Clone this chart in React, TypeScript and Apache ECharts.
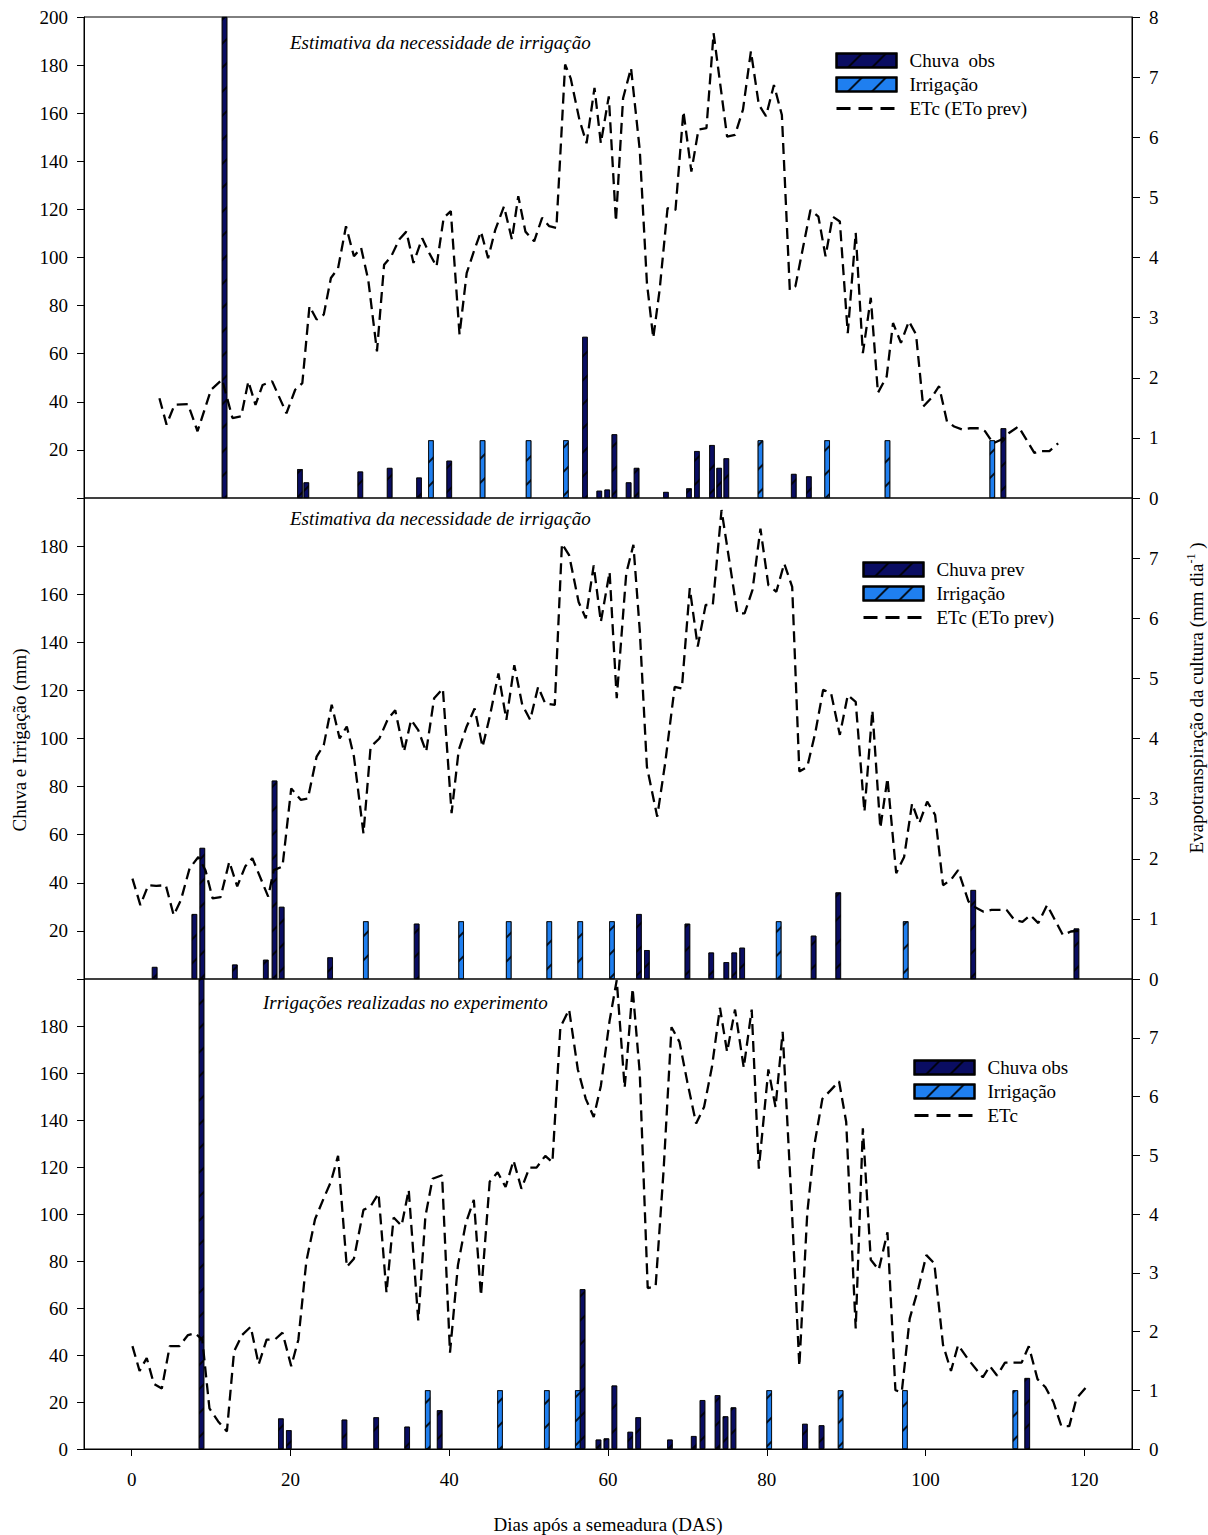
import React, { useEffect, useRef } from "react";
import * as echarts from "echarts";

const FONT = "'Liberation Serif', 'Times New Roman', serif";
const DARK = "#0a0d62";
const BLUE = "#1f7ff0";

// x tick labels (DAS)
const xTicks = [0, 20, 40, 60, 80, 100, 120];
const leftTicksTop = [20, 40, 60, 80, 100, 120, 140, 160, 180, 200];
const leftTicksMid = [20, 40, 60, 80, 100, 120, 140, 160, 180];
const leftTicksBot = [0, 20, 40, 60, 80, 100, 120, 140, 160, 180];
const rightTicksTop = [0, 1, 2, 3, 4, 5, 6, 7, 8];
const rightTicksOther = [0, 1, 2, 3, 4, 5, 6, 7];

// ---- Panel 1: Estimativa (chuva observada) ----
const chuvaObsTop: [number, number][] = [
  [11.7, 200], [21.2, 12], [22.0, 6.5], [28.8, 11], [32.5, 12.5], [36.2, 8.5],
  [40.0, 15.5], [57.1, 67], [58.9, 3], [59.9, 3.5], [60.8, 26.5], [62.6, 6.5],
  [63.6, 12.5], [67.3, 2.5], [70.2, 4], [71.2, 19.5], [73.1, 22], [74.0, 12.5],
  [74.9, 16.5], [83.4, 10], [85.3, 9], [109.8, 29],
];
const irrigTop: [number, number][] = [
  [37.7, 24], [44.2, 24], [50.0, 24], [54.7, 24], [79.2, 24], [87.6, 24], [95.2, 24], [108.4, 24],
];
const etcTop: [number, number][] = [
  [3.5, 1.66], [4.4, 1.22], [5.4, 1.55], [7.1, 1.56], [8.3, 1.11], [10.0, 1.8], [11.4, 1.97],
  [12.7, 1.33], [13.8, 1.36], [14.7, 1.94], [15.6, 1.55], [16.5, 1.88], [17.7, 1.94], [19.5, 1.41],
  [20.6, 1.8], [21.5, 1.91], [22.4, 3.19], [23.3, 2.97], [24.2, 3.05], [25.1, 3.66], [26.0, 3.82],
  [27.0, 4.52], [28.0, 4.02], [28.9, 4.16], [29.8, 3.63], [30.9, 2.44], [31.8, 3.88], [32.7, 4.02],
  [33.7, 4.3], [34.6, 4.43], [35.5, 3.91], [36.6, 4.32], [37.5, 4.07], [38.4, 3.85], [39.3, 4.66],
  [40.2, 4.77], [41.3, 2.72], [42.2, 3.74], [43.1, 4.1], [44.0, 4.43], [44.9, 3.99], [45.8, 4.46],
  [46.9, 4.85], [47.9, 4.3], [48.7, 5.02], [49.6, 4.43], [50.7, 4.27], [51.7, 4.66], [52.6, 4.52],
  [53.5, 4.49], [54.6, 7.21], [55.3, 6.98], [56.4, 6.29], [57.3, 5.9], [58.3, 6.82], [59.1, 5.9],
  [60.1, 6.68], [61.0, 4.6], [61.9, 6.65], [62.9, 7.15], [64.0, 5.79], [64.9, 3.58], [65.7, 2.66],
  [66.5, 3.46], [67.5, 4.82], [68.5, 4.79], [69.5, 6.43], [70.5, 5.43], [71.4, 6.13], [72.4, 6.15],
  [73.3, 7.73], [75.0, 6.01], [76.0, 6.04], [77.0, 6.46], [78.0, 7.43], [79.0, 6.54], [79.9, 6.35],
  [80.9, 6.87], [81.9, 6.37], [82.9, 3.46], [83.6, 3.52], [84.6, 4.19], [85.5, 4.79], [86.5, 4.68],
  [87.4, 4.02], [88.3, 4.68], [89.2, 4.6], [90.2, 2.74], [91.2, 4.41], [92.1, 2.41], [93.1, 3.33],
  [94.0, 1.75], [95.1, 2.02], [95.9, 2.91], [96.9, 2.58], [97.9, 2.94], [98.8, 2.72], [99.7, 1.52],
  [100.7, 1.66], [101.7, 1.86], [102.7, 1.27], [103.6, 1.19], [104.6, 1.14], [105.6, 1.16],
  [106.8, 1.16], [107.5, 1.11], [108.5, 0.91], [109.5, 0.97], [110.5, 1.08], [111.7, 1.19],
  [112.7, 0.97], [113.7, 0.75], [114.6, 0.78], [115.6, 0.78], [116.7, 0.91],
];

// ---- Panel 2: Estimativa (chuva prevista) ----
const chuvaPrevMid: [number, number][] = [
  [2.9, 5], [7.9, 27], [8.9, 54.5], [13.0, 6], [16.9, 8], [18.0, 82.5], [18.9, 30], [25.0, 9],
  [35.9, 23], [63.9, 27], [64.9, 12], [70.0, 23], [73.0, 11], [74.9, 7], [75.9, 11], [76.9, 13],
  [85.9, 18], [89.0, 36], [106.0, 37], [119.0, 21],
];
const irrigMid: [number, number][] = [
  [29.5, 24], [41.5, 24], [47.5, 24], [52.6, 24], [56.5, 24], [60.5, 24], [81.5, 24], [97.5, 24],
];
const etcMid: [number, number][] = [
  [0.1, 1.67], [1.1, 1.23], [2.1, 1.56], [3.1, 1.55], [4.3, 1.56], [5.3, 1.06], [6.2, 1.31],
  [7.3, 1.84], [8.4, 2.03], [9.3, 1.81], [10.2, 1.34], [11.2, 1.36], [12.3, 1.95], [13.3, 1.54],
  [14.3, 1.87], [15.2, 2.01], [17.2, 1.37], [17.9, 1.81], [19.0, 1.87], [20.1, 3.17], [21.3, 2.98],
  [22.2, 3.0], [23.3, 3.7], [24.2, 3.89], [25.2, 4.56], [26.2, 4.0], [27.1, 4.2], [28.0, 3.7],
  [29.2, 2.42], [30.1, 3.86], [31.2, 4.0], [32.3, 4.33], [33.2, 4.47], [34.3, 3.78], [35.2, 4.31],
  [36.1, 4.14], [37.1, 3.78], [38.1, 4.67], [39.2, 4.83], [40.3, 2.76], [41.2, 3.81], [42.2, 4.2],
  [43.2, 4.5], [44.2, 3.86], [45.1, 4.36], [46.2, 5.08], [47.2, 4.31], [48.2, 5.22], [49.2, 4.56],
  [50.2, 4.31], [51.2, 4.86], [52.1, 4.58], [53.3, 4.56], [54.2, 7.24], [55.1, 7.05], [56.3, 6.27],
  [57.2, 6.0], [58.2, 6.88], [59.1, 5.94], [60.2, 6.77], [61.1, 4.67], [62.3, 6.75], [63.2, 7.22],
  [64.0, 5.8], [64.9, 3.53], [66.2, 2.7], [67.2, 3.59], [68.4, 4.86], [69.3, 4.83], [70.3, 6.5],
  [71.3, 5.53], [72.3, 6.22], [73.2, 6.22], [74.3, 7.8], [76.3, 6.08], [77.2, 6.08], [78.2, 6.47],
  [79.2, 7.49], [80.2, 6.55], [81.2, 6.44], [82.2, 6.91], [83.2, 6.52], [84.1, 3.45], [85.1, 3.53],
  [86.1, 4.09], [87.1, 4.81], [88.1, 4.75], [89.2, 4.06], [90.2, 4.72], [91.2, 4.61], [92.3, 2.78],
  [93.3, 4.47], [94.3, 2.51], [95.2, 3.34], [96.3, 1.76], [97.3, 2.03], [98.3, 2.92], [99.2, 2.59],
  [100.2, 2.95], [101.2, 2.73], [102.2, 1.56], [103.2, 1.65], [104.1, 1.81], [105.4, 1.29],
  [106.3, 1.19], [107.3, 1.12], [108.3, 1.15], [110.2, 1.15], [111.2, 0.98], [112.2, 0.95],
  [113.2, 1.06], [114.2, 0.93], [115.3, 1.23], [116.3, 0.98], [117.3, 0.73], [118.3, 0.79],
  [119.8, 0.81],
];

// ---- Panel 3: Irrigações realizadas ----
const chuvaObsBot: [number, number][] = [
  [8.8, 200], [18.8, 13], [19.8, 8], [26.8, 12.5], [30.8, 13.5], [34.7, 9.5], [38.8, 16.5],
  [56.8, 68], [58.8, 4], [59.8, 4.5], [60.8, 27], [62.8, 7.3], [63.8, 13.5], [67.8, 4],
  [70.8, 5.5], [71.9, 20.8], [73.8, 22.9], [74.8, 13.9], [75.8, 17.7], [84.8, 10.7], [86.9, 10.1],
  [112.8, 30.2],
];
const irrigBot: [number, number][] = [
  [37.3, 25], [46.4, 25], [52.3, 25], [56.2, 25], [80.3, 25], [89.3, 25], [97.4, 25], [111.3, 25],
];
const etcBot: [number, number][] = [
  [0.1, 1.75], [1.0, 1.33], [1.9, 1.55], [2.8, 1.11], [3.8, 1.03], [4.8, 1.75], [6.0, 1.75],
  [7.1, 1.94], [8.0, 1.97], [8.9, 1.86], [9.8, 0.69], [10.9, 0.47], [12.0, 0.3], [12.9, 1.66],
  [13.9, 1.94], [15.0, 2.08], [16.0, 1.44], [17.0, 1.86], [18.1, 1.87], [19.0, 1.98], [20.1, 1.41],
  [21.0, 1.86], [22.0, 3.19], [23.1, 3.91], [24.2, 4.27], [25.1, 4.55], [26.0, 4.99], [27.1, 3.1],
  [28.0, 3.24], [29.2, 4.07], [30.1, 4.13], [31.1, 4.35], [32.1, 2.66], [33.0, 3.94], [34.0, 3.8],
  [34.9, 4.41], [36.1, 2.19], [37.0, 3.96], [37.9, 4.6], [39.1, 4.66], [40.1, 1.64], [41.1, 3.13],
  [42.1, 3.85], [43.1, 4.24], [44.0, 2.61], [45.1, 4.55], [46.1, 4.71], [47.1, 4.46], [48.1, 4.91],
  [49.1, 4.43], [50.1, 4.79], [51.0, 4.79], [52.1, 4.99], [53.0, 4.88], [54.0, 7.18], [55.1, 7.48],
  [56.2, 6.46], [57.2, 5.96], [58.2, 5.65], [59.1, 6.18], [60.2, 7.29], [61.1, 7.98], [62.1, 6.15],
  [63.1, 7.84], [64.0, 6.4], [65.0, 2.74], [66.0, 2.77], [67.0, 4.74], [68.0, 7.18], [69.0, 6.93],
  [70.0, 6.24], [71.1, 5.54], [72.1, 5.82], [73.1, 6.51], [74.1, 7.51], [75.0, 6.76], [76.0, 7.48],
  [77.1, 6.49], [78.1, 7.48], [79.0, 4.77], [80.2, 6.46], [81.1, 5.82], [82.0, 7.1], [83.1, 4.24],
  [84.1, 1.41], [85.1, 4.02], [86.0, 5.18], [87.0, 5.96], [88.0, 6.1], [89.1, 6.26], [90.0, 5.57],
  [91.2, 2.05], [92.1, 5.46], [93.1, 3.22], [94.1, 3.05], [95.2, 3.69], [96.2, 1.0], [97.0, 0.97],
  [98.0, 2.22], [99.1, 2.74], [100.1, 3.3], [101.1, 3.16], [102.2, 1.77], [103.2, 1.33],
  [104.1, 1.77], [105.4, 1.52], [107.2, 1.22], [108.1, 1.41], [109.0, 1.25], [110.0, 1.47],
  [112.1, 1.47], [113.0, 1.75], [114.1, 1.19], [115.1, 1.05], [116.1, 0.8], [117.1, 0.39],
  [118.1, 0.39], [119.0, 0.86], [120.2, 1.05],
];

const panelTitles = [
  "Estimativa da necessidade de irrigação",
  "Estimativa da necessidade de irrigação",
  "Irrigações realizadas no experimento",
];

const GRID_LEFT = 84;
const GRID_W = 1048;
const GRID_TOPS = [17, 498, 979];
const GRID_H = 481;

const hatch = {
  symbol: "rect",
  symbolSize: 1,
  color: "rgba(0,0,0,0.85)",
  dashArrayX: [1, 0],
  dashArrayY: [1.3, 15],
  rotation: -Math.PI / 4,
};

function barSeries(name: string, color: string, data: [number, number][], idx: number) {
  return {
    type: "bar",
    name,
    xAxisIndex: idx,
    yAxisIndex: idx * 2,
    data,
    barWidth: 5.5,
    barGap: "-100%",
    itemStyle: { color, borderColor: "#000", borderWidth: 0.7, decal: hatch },
    emphasis: { disabled: true },
  };
}

function lineSeries(name: string, data: [number, number][], idx: number) {
  return {
    type: "line",
    name,
    xAxisIndex: idx,
    yAxisIndex: idx * 2 + 1,
    data,
    symbol: "none",
    showSymbol: false,
    z: 5,
    lineStyle: { color: "#000", width: 2.3, type: [11, 6] },
    itemStyle: { color: "#000" },
    emphasis: { disabled: true },
  };
}

export default function App() {
  const ref = useRef<HTMLDivElement>(null);
  useEffect(() => {
    if (!ref.current) return;
    const chart = echarts.init(ref.current, null, { renderer: "svg" });
    const tickText = { fontFamily: FONT, fontSize: 19, color: "#000" };
    const axisLine = { show: true, onZero: false, lineStyle: { color: "#000", width: 1 } };
    const leftLabels = [leftTicksTop, leftTicksMid, leftTicksBot];
    const rightLabels = [rightTicksTop, rightTicksOther, rightTicksOther];

    const grids = GRID_TOPS.map((t) => ({
      left: GRID_LEFT,
      width: GRID_W,
      top: t,
      height: GRID_H,
      show: true,
      borderColor: "#000",
      borderWidth: 1,
      backgroundColor: "transparent",
    }));

    const xAxes = [0, 1, 2].map((i) => ({
      type: "value",
      gridIndex: i,
      min: -6,
      max: 126,
      axisLine: { ...axisLine, show: i === 2 },
      axisTick: { show: i === 2, length: 7, customValues: xTicks, lineStyle: { color: "#000" } },
      axisLabel: { show: i === 2, customValues: xTicks, margin: 21, ...tickText },
      splitLine: { show: false },
      name: i === 2 ? "Dias após a semeadura (DAS)" : "",
      nameLocation: "middle",
      nameGap: 66,
      nameTextStyle: { fontFamily: FONT, fontSize: 19, color: "#000" },
    }));

    const yAxes: any[] = [];
    [0, 1, 2].forEach((i) => {
      yAxes.push({
        type: "value",
        gridIndex: i,
        position: "left",
        min: 0,
        max: 200,
        interval: 20,
        axisLine,
        axisTick: { show: true, length: 7, lineStyle: { color: "#000" } },
        axisLabel: { customValues: leftLabels[i], margin: 16, ...tickText },
        splitLine: { show: false },
      });
      yAxes.push({
        type: "value",
        gridIndex: i,
        position: "right",
        min: 0,
        max: 8,
        interval: 1,
        axisLine,
        axisTick: { show: true, length: 8, lineStyle: { color: "#000" } },
        axisLabel: { customValues: rightLabels[i], margin: 17, ...tickText },
        splitLine: { show: false },
      });
    });

    const legendText = { fontFamily: FONT, fontSize: 19, color: "#000", padding: [0, 0, 0, 8] };
    const legendBase = {
      orient: "vertical",
      itemWidth: 60,
      itemHeight: 14,
      itemGap: 5,
      padding: 0,
      selectedMode: false,
      textStyle: legendText,
    };
    const lineItem = (name: string) => ({
      name,
      itemStyle: { opacity: 0, borderWidth: 0 },
      lineStyle: { color: "#000", width: 3, type: [14, 8] },
    });

    const option: any = {
      animation: false,
      backgroundColor: "#fff",
      grid: grids,
      xAxis: xAxes,
      yAxis: yAxes,
      legend: [
        {
          ...legendBase,
          left: 835,
          top: 51,
          data: [
            { name: "Chuva  obs", icon: "rect" },
            { name: "Irrigação", icon: "rect" },
            lineItem("ETc (ETo prev)"),
          ],
        },
        {
          ...legendBase,
          left: 862,
          top: 560,
          data: [
            { name: "Chuva prev", icon: "rect" },
            { name: "Irrigação", icon: "rect" },
            lineItem("ETc (ETo prev)"),
          ],
        },
        {
          ...legendBase,
          left: 913,
          top: 1058,
          data: [
            { name: "Chuva obs", icon: "rect" },
            { name: "Irrigação", icon: "rect" },
            lineItem("ETc"),
          ],
        },
      ],
      series: [
        barSeries("Chuva  obs", DARK, chuvaObsTop, 0),
        barSeries("Irrigação", BLUE, irrigTop, 0),
        lineSeries("ETc (ETo prev)", etcTop, 0),
        barSeries("Chuva prev", DARK, chuvaPrevMid, 1),
        barSeries("Irrigação", BLUE, irrigMid, 1),
        lineSeries("ETc (ETo prev)", etcMid, 1),
        barSeries("Chuva obs", DARK, chuvaObsBot, 2),
        barSeries("Irrigação", BLUE, irrigBot, 2),
        lineSeries("ETc", etcBot, 2),
      ],
      graphic: [
        ...panelTitles.map((t, i) => ({
          type: "text",
          left: i === 2 ? 263 : 290,
          top: [33, 509, 993][i],
          silent: true,
          style: { text: t, font: `italic 19px ${FONT}`, fill: "#000" },
        })),
        {
          type: "text",
          x: 19,
          y: 740,
          rotation: Math.PI / 2,
          silent: true,
          style: {
            text: "Chuva e Irrigação (mm)",
            font: `19px ${FONT}`,
            fill: "#000",
            align: "center",
            verticalAlign: "middle",
          },
        },
        {
          type: "text",
          x: 1196,
          y: 698,
          rotation: Math.PI / 2,
          silent: true,
          style: {
            text: "Evapotranspiração da cultura (mm dia{sup|-1} )",
            font: `19px ${FONT}`,
            fill: "#000",
            align: "center",
            verticalAlign: "middle",
            rich: {
              sup: { fontFamily: FONT, fontSize: 12, verticalAlign: "top", padding: [0, 0, 10, 0], fill: "#000" },
            },
          },
        },
      ],
    };
    chart.setOption(option);
    return () => chart.dispose();
  }, []);
  return (
    <div
      ref={ref}
      style={{ position: "absolute", left: 0, top: 0, width: 1208, height: 1535 }}
    />
  );
}
